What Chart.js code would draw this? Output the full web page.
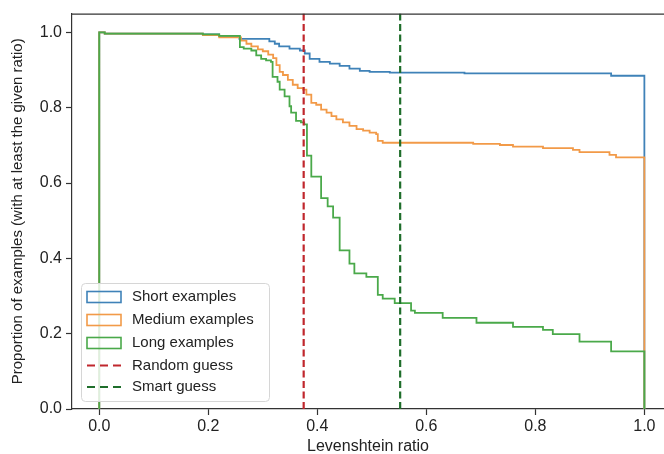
<!DOCTYPE html>
<html>
<head>
<meta charset="utf-8">
<script src="https://cdn.jsdelivr.net/npm/chart.js@4"></script>
<style>
  html, body { margin: 0; padding: 0; background: #ffffff; }
  #wrap { width: 664px; height: 454px; position: relative; }
</style>
</head>
<body>
<div id="wrap"><canvas id="chart" width="664" height="454"></canvas></div>
<script>
// Share of examples whose Levenshtein ratio is at least x (reverse cumulative step curves).
// Each curve: bin start edges and the proportion held from that edge onward, up to 1.0.
const shortX  = [0.00, 0.01, 0.19, 0.22, 0.257, 0.312, 0.322, 0.330, 0.349, 0.368, 0.377, 0.386, 0.404, 0.423, 0.441, 0.459, 0.478, 0.496, 0.533, 0.670, 0.939];
const shortY  = [1.000, 0.997, 0.995, 0.991, 0.983, 0.976, 0.970, 0.963, 0.957, 0.952, 0.944, 0.930, 0.922, 0.917, 0.911, 0.904, 0.898, 0.895, 0.893, 0.891, 0.885];

const mediumX = [0.00, 0.01, 0.19, 0.22, 0.260, 0.270, 0.279, 0.291, 0.300, 0.310, 0.319, 0.325, 0.331, 0.337, 0.346, 0.355, 0.364, 0.374, 0.380, 0.389, 0.398, 0.407, 0.417, 0.426, 0.435, 0.447, 0.459, 0.472, 0.484, 0.496, 0.508, 0.511, 0.520, 0.686, 0.735, 0.759, 0.814, 0.869, 0.881, 0.936, 0.948];
const mediumY = [1.000, 0.997, 0.993, 0.987, 0.978, 0.970, 0.963, 0.955, 0.950, 0.941, 0.932, 0.913, 0.895, 0.887, 0.874, 0.861, 0.852, 0.848, 0.835, 0.813, 0.808, 0.795, 0.787, 0.778, 0.769, 0.761, 0.752, 0.743, 0.739, 0.734, 0.730, 0.712, 0.707, 0.704, 0.701, 0.697, 0.693, 0.688, 0.682, 0.675, 0.668];

const longX   = [0.00, 0.01, 0.19, 0.22, 0.258, 0.265, 0.279, 0.288, 0.297, 0.306, 0.315, 0.318, 0.327, 0.331, 0.340, 0.349, 0.352, 0.361, 0.370, 0.376, 0.381, 0.389, 0.407, 0.419, 0.429, 0.441, 0.459, 0.468, 0.490, 0.511, 0.520, 0.542, 0.572, 0.579, 0.630, 0.692, 0.759, 0.814, 0.832, 0.881, 0.939];
const longY   = [1.000, 0.997, 0.995, 0.991, 0.961, 0.957, 0.952, 0.939, 0.930, 0.926, 0.922, 0.882, 0.869, 0.848, 0.830, 0.804, 0.787, 0.765, 0.761, 0.756, 0.673, 0.617, 0.560, 0.538, 0.508, 0.421, 0.386, 0.360, 0.351, 0.303, 0.293, 0.281, 0.261, 0.255, 0.242, 0.229, 0.218, 0.210, 0.199, 0.179, 0.153];

const seriesNames = ['Short examples', 'Medium examples', 'Long examples'];
const randomGuess = 0.375;
const smartGuess  = 0.552;
const guessNames  = ['Random guess', 'Smart guess'];

const xTickValues = [0.0, 0.2, 0.4, 0.6, 0.8, 1.0];
const yTickValues = [0.0, 0.2, 0.4, 0.6, 0.8, 1.0];

const X_MIN = -0.05, X_MAX = 1.036, Y_MIN = 0, Y_MAX = 1.05;
const FONT = '"Liberation Sans", Arial, sans-serif';
const TEXT = '#222222';

// Turn bin edges + values into an outline that rises at 0 and drops back to 0 at 1.
function stepOutline(xs, ys) {
  const pts = [{ x: xs[0], y: 0 }];
  for (let i = 0; i < xs.length; i++) pts.push({ x: xs[i], y: ys[i] });
  pts.push({ x: 1.0, y: ys[ys.length - 1] });
  pts.push({ x: 1.0, y: 0 });
  return pts;
}

function curve(label, xs, ys, color, order) {
  return {
    label, data: stepOutline(xs, ys), borderColor: color, backgroundColor: color,
    borderWidth: 1.8, stepped: 'before', pointRadius: 0, fill: false, order,
    kind: 'patch'
  };
}

function guessLine(label, x, color) {
  return {
    label, data: [{ x, y: Y_MIN }, { x, y: Y_MAX }], borderColor: color,
    borderWidth: 2.2, borderDash: [7, 3.5], pointRadius: 0, fill: false, order: 0,
    kind: 'dash'
  };
}

const datasets = [
  curve(seriesNames[0], shortX, shortY, '#3f82b8', 3),
  curve(seriesNames[1], mediumX, mediumY, '#f29a48', 2),
  curve(seriesNames[2], longX, longY, '#4aa94a', 1),
  guessLine(guessNames[0], randomGuess, '#c0272d'),
  guessLine(guessNames[1], smartGuess, '#1f6e2b')
];

// Top frame line of the plot box.
const topSpine = {
  id: 'topSpine',
  afterDraw(chart) {
    const { ctx, chartArea: a } = chart;
    ctx.save();
    ctx.strokeStyle = '#333';
    ctx.lineWidth = 1.2;
    ctx.beginPath();
    ctx.moveTo(a.left, a.top + 0.5);
    ctx.lineTo(a.right, a.top + 0.5);
    ctx.stroke();
    ctx.restore();
  }
};

// Legend box in the lower-left corner of the plot.
const innerLegend = {
  id: 'innerLegend',
  afterDraw(chart) {
    const { ctx, chartArea: a } = chart;
    const bx = a.left + 9, by = 283, bw = 188, bh = 118;
    ctx.save();
    ctx.beginPath();
    ctx.roundRect(bx + 0.5, by + 0.5, bw, bh, 4);
    ctx.fillStyle = 'rgba(255,255,255,0.82)';
    ctx.fill();
    ctx.strokeStyle = '#d6d6d6';
    ctx.lineWidth = 1;
    ctx.stroke();

    const rows = [297, 320, 343, 365.5, 387];
    ctx.font = '15px ' + FONT;
    ctx.textBaseline = 'middle';
    ctx.textAlign = 'left';
    chart.data.datasets.forEach((ds, i) => {
      const cy = rows[i];
      const x0 = bx + 6, x1 = bx + 40;
      if (ds.kind === 'patch') {
        ctx.setLineDash([]);
        ctx.strokeStyle = ds.borderColor;
        ctx.lineWidth = 1.6;
        ctx.strokeRect(x0, cy - 5.5, x1 - x0, 11);
      } else {
        ctx.setLineDash([8, 5]);
        ctx.strokeStyle = ds.borderColor;
        ctx.lineWidth = 2.2;
        ctx.beginPath();
        ctx.moveTo(x0, cy);
        ctx.lineTo(x1, cy);
        ctx.stroke();
      }
      ctx.setLineDash([]);
      ctx.fillStyle = TEXT;
      ctx.fillText(ds.label, bx + 51, cy);
    });
    ctx.restore();
  }
};

new Chart(document.getElementById('chart'), {
  type: 'line',
  data: { datasets },
  plugins: [topSpine, innerLegend],
  options: {
    responsive: false,
    devicePixelRatio: 1,
    animation: false,
    events: [],
    layout: { padding: { top: 8, right: 0, bottom: 0, left: 0 } },
    plugins: { legend: { display: false }, tooltip: { enabled: false } },
    scales: {
      x: {
        type: 'linear', min: X_MIN, max: X_MAX,
        afterBuildTicks: s => { s.ticks = xTickValues.map(v => ({ value: v })); },
        afterFit: s => { s.height = 45; },
        grid: { drawOnChartArea: false, drawTicks: true, tickLength: 6, color: '#333', tickWidth: 1.2 },
        border: { display: true, color: '#333', width: 1.2 },
        ticks: {
          color: TEXT, padding: 2, maxRotation: 0, autoSkip: false,
          font: { family: FONT, size: 16 },
          callback: v => Number(v).toFixed(1)
        },
        title: {
          display: true, text: 'Levenshtein ratio', color: TEXT,
          font: { family: FONT, size: 16, lineHeight: 0.9 },
          padding: { top: 0, bottom: 0 }
        }
      },
      y: {
        type: 'linear', min: Y_MIN, max: Y_MAX,
        afterBuildTicks: s => { s.ticks = yTickValues.map(v => ({ value: v })); },
        afterFit: s => { s.width = 72; },
        grid: { drawOnChartArea: false, drawTicks: true, tickLength: 6, color: '#333', tickWidth: 1.2 },
        border: { display: true, color: '#333', width: 1.2 },
        ticks: {
          color: TEXT, padding: 4, autoSkip: false,
          font: { family: FONT, size: 16 },
          callback: v => Number(v).toFixed(1)
        },
        title: {
          display: true, text: 'Proportion of examples (with at least the given ratio)', color: TEXT,
          font: { family: FONT, size: 15, lineHeight: 1.0 },
          padding: { top: 10, bottom: 0 }
        }
      }
    }
  }
});
</script>
</body>
</html>
